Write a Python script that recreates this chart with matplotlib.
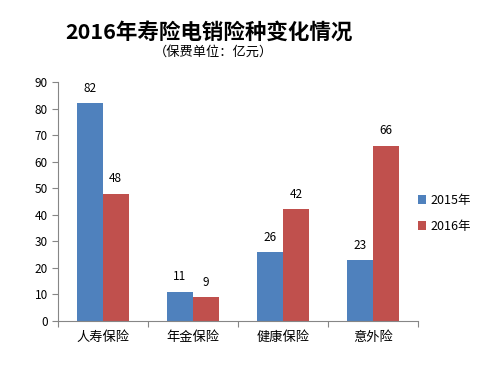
import numpy as np
import matplotlib.pyplot as plt

plt.rcParams['font.family'] = ['Noto Sans CJK SC', 'DejaVu Sans']

categories = ["人寿保险", "年金保险", "健康保险", "意外险"]
series_names = ["2015年", "2016年"]
values_2015 = [82, 11, 26, 23]
values_2016 = [48, 9, 42, 66]
colors = ["#4F81BD", "#C0504D"]

fig = plt.figure(figsize=(4.8, 3.68), dpi=100)
ax = fig.add_axes([0.12, 0.128, 0.751, 0.649])

x = np.arange(len(categories))
w = 0.29
b1 = ax.bar(x - w / 2, values_2015, w, color=colors[0], label=series_names[0])
b2 = ax.bar(x + w / 2, values_2016, w, color=colors[1], label=series_names[1])

for bars, vals in [(b1, values_2015), (b2, values_2016)]:
    for rect, v in zip(bars, vals):
        ax.annotate(str(v), (rect.get_x() + rect.get_width() / 2, v),
                    xytext=(0, 6), textcoords="offset points",
                    ha="center", va="bottom", fontsize=8.5, color="black")

ax.set_xlim(-0.5, len(categories) - 0.5)
ax.set_ylim(0, 90)
ax.set_yticks(np.arange(0, 91, 10))
ax.set_xticks(np.arange(-0.5, len(categories), 1.0))
ax.set_xticklabels([])
ax.set_xticks(x, minor=True)
ax.set_xticklabels(categories, minor=True, fontsize=9.5)
ax.tick_params(axis="x", which="minor", length=0, pad=7)
ax.tick_params(axis="x", which="major", length=4, color="#868686")
ax.tick_params(axis="y", length=4, color="#868686", labelsize=8.5, pad=3)

for s in ["top", "right"]:
    ax.spines[s].set_visible(False)
for s in ["left", "bottom"]:
    ax.spines[s].set_color("#868686")

ax.legend(loc="center left", bbox_to_anchor=(0.985, 0.45), frameon=False,
          fontsize=9, handlelength=0.7, handleheight=0.7, labelspacing=1.0,
          handletextpad=0.3, borderaxespad=0.0)

fig.text(0.435, 0.913, "2016年寿险电销险种变化情况", ha="center", va="center",
         fontsize=15.5, fontweight="bold")
fig.text(0.445, 0.857, "（保费单位：亿元）", ha="center", va="center", fontsize=9.5)

fig.savefig("out.png", dpi=100)
